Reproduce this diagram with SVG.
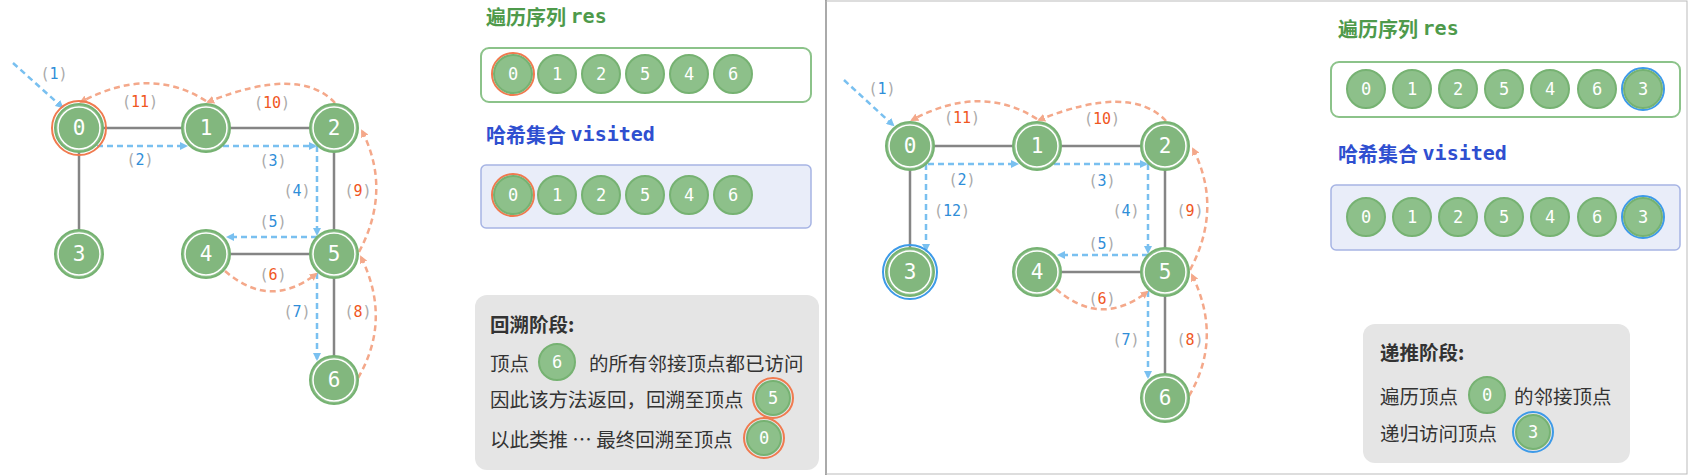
<svg xmlns="http://www.w3.org/2000/svg" width="1688" height="475" viewBox="0 0 1688 475">
<style>
.n circle.o{fill:#8dc08a;stroke:#76b272;stroke-width:2}
.n circle.i{fill:#82b77e;stroke:#fff;stroke-width:1.5}
.n text{font-family:"DejaVu Sans Mono",monospace;fill:#fff;font-size:21px;text-anchor:middle;dominant-baseline:central}
.s text{font-size:17px}
.e{stroke:#858585;stroke-width:2.5;fill:none}
.b{stroke:#79c0f0;stroke-width:2.5;stroke-dasharray:6 4;fill:none;marker-end:url(#ab)}
.r{stroke:#f4a88a;stroke-width:2.5;stroke-dasharray:6 4;fill:none;marker-end:url(#ar)}
.lb{font-family:"DejaVu Sans Mono",monospace;font-size:15px;text-anchor:middle;dominant-baseline:central;fill:#aaa}
.lb .c1{fill:#2f8ed8}.lb .c2{fill:#f0571f}
.t{font-family:"Noto Sans CJK SC",sans-serif;font-weight:bold;font-size:20px;dominant-baseline:central}
.tm{font-family:"DejaVu Sans Mono",monospace;font-weight:bold}
.p{font-family:"Noto Sans CJK SC",sans-serif;font-size:19.5px;fill:#333;dominant-baseline:central}
.org{fill:none;stroke:#f07a4f;stroke-width:2}
.blr{fill:none;stroke:#3d9ae8;stroke-width:2}
</style>
<defs>
<marker id="ab" markerWidth="8" markerHeight="8" refX="6" refY="4" orient="auto" markerUnits="userSpaceOnUse"><path d="M0,0 L8,4 L0,8 z" fill="#79c0f0"/></marker>
<marker id="ar" markerWidth="8" markerHeight="8" refX="6" refY="4" orient="auto" markerUnits="userSpaceOnUse"><path d="M0,0 L8,4 L0,8 z" fill="#f4a88a"/></marker>
<g id="gr">
<g class="conn">
<line class="e" x1="79" y1="128" x2="206" y2="128"/><line class="e" x1="206" y1="128" x2="334" y2="128"/>
<line class="e" x1="79" y1="128" x2="79" y2="254"/><line class="e" x1="334" y1="128" x2="334" y2="254"/>
<line class="e" x1="206" y1="254" x2="334" y2="254"/><line class="e" x1="334" y1="254" x2="334" y2="380"/>
</g>
</g>
</defs>
<rect width="1688" height="475" fill="#fff"/>
<line x1="826" y1="0" x2="826" y2="475" stroke="#999" stroke-width="2"/>
<rect x="826" y="1" width="861" height="473" fill="none" stroke="#bbb" stroke-width="1"/>

<g id="left">
<g id="edges-left">
<use href="#gr"/>
<path class="b" d="M13,63 L62,107"/>
<path class="b" d="M97,146 L186,146"/>
<path class="b" d="M223,146 L315,146"/>
<path class="b" d="M317,146 L317,234"/>
<path class="b" d="M317,237 L228,237"/>
<path class="b" d="M317,273 L317,359"/>
<path class="r" d="M225,271 Q270,310 316,274"/>
<path class="r" d="M358,378 Q392,320 361,257"/>
<path class="r" d="M359,252 Q392,190 362,131"/>
<path class="r" d="M335,103 Q300,65 208,102"/>
<path class="r" d="M206,101 Q150,65 81,102"/>
<text class="lb" x="54" y="74">(<tspan class="c1">1</tspan>)</text>
<text class="lb" x="140" y="160">(<tspan class="c1">2</tspan>)</text>
<text class="lb" x="273" y="161">(<tspan class="c1">3</tspan>)</text>
<text class="lb" x="297" y="191">(<tspan class="c1">4</tspan>)</text>
<text class="lb" x="273" y="222">(<tspan class="c1">5</tspan>)</text>
<text class="lb" x="273" y="275">(<tspan class="c2">6</tspan>)</text>
<text class="lb" x="297" y="312">(<tspan class="c1">7</tspan>)</text>
<text class="lb" x="358" y="312">(<tspan class="c2">8</tspan>)</text>
<text class="lb" x="358" y="191">(<tspan class="c2">9</tspan>)</text>
<text class="lb" x="272" y="103">(<tspan class="c2">10</tspan>)</text>
<text class="lb" x="140" y="102">(<tspan class="c2">11</tspan>)</text>
</g>
<g id="L0" class="n"><circle class="org" cx="79" cy="128" r="27"/><circle class="o" cx="79" cy="128" r="24"/><circle class="i" cx="79" cy="128" r="21"/><text x="79" y="128">0</text></g>
<g id="L1" class="n"><circle class="o" cx="206" cy="128" r="24"/><circle class="i" cx="206" cy="128" r="21"/><text x="206" y="128">1</text></g>
<g id="L2" class="n"><circle class="o" cx="334" cy="128" r="24"/><circle class="i" cx="334" cy="128" r="21"/><text x="334" y="128">2</text></g>
<g id="L3" class="n"><circle class="o" cx="79" cy="254" r="24"/><circle class="i" cx="79" cy="254" r="21"/><text x="79" y="254">3</text></g>
<g id="L4" class="n"><circle class="o" cx="206" cy="254" r="24"/><circle class="i" cx="206" cy="254" r="21"/><text x="206" y="254">4</text></g>
<g id="L5" class="n"><circle class="o" cx="334" cy="254" r="24"/><circle class="i" cx="334" cy="254" r="21"/><text x="334" y="254">5</text></g>
<g id="L6" class="n"><circle class="o" cx="334" cy="380" r="24"/><circle class="i" cx="334" cy="380" r="21"/><text x="334" y="380">6</text></g>

<text class="t" x="486" y="16" fill="#4e9a4b">遍历序列 <tspan class="tm">res</tspan></text>
<rect x="481" y="48" width="330" height="54" rx="8" fill="#fff" stroke="#8cc38a" stroke-width="2"/>
<text class="t" x="486" y="134" fill="#2f4fd0">哈希集合 <tspan class="tm">visited</tspan></text>
<rect x="481" y="165" width="330" height="63" rx="5" fill="#e9edf9" stroke="#a6b4e4" stroke-width="1.5"/>
<g id="Lres" class="n s">
<circle class="org" cx="513" cy="74" r="21"/>
<circle class="o" cx="513" cy="74" r="19"/><text x="513" y="74">0</text>
<circle class="o" cx="557" cy="74" r="19"/><text x="557" y="74">1</text>
<circle class="o" cx="601" cy="74" r="19"/><text x="601" y="74">2</text>
<circle class="o" cx="645" cy="74" r="19"/><text x="645" y="74">5</text>
<circle class="o" cx="689" cy="74" r="19"/><text x="689" y="74">4</text>
<circle class="o" cx="733" cy="74" r="19"/><text x="733" y="74">6</text>
</g>
<g id="Lvis" class="n s">
<circle class="org" cx="513" cy="195" r="21"/>
<circle class="o" cx="513" cy="195" r="19"/><text x="513" y="195">0</text>
<circle class="o" cx="557" cy="195" r="19"/><text x="557" y="195">1</text>
<circle class="o" cx="601" cy="195" r="19"/><text x="601" y="195">2</text>
<circle class="o" cx="645" cy="195" r="19"/><text x="645" y="195">5</text>
<circle class="o" cx="689" cy="195" r="19"/><text x="689" y="195">4</text>
<circle class="o" cx="733" cy="195" r="19"/><text x="733" y="195">6</text>
</g>
<g id="Lnote">
<rect x="475" y="295" width="344" height="175" rx="12" fill="#e5e5e5"/>
<text class="p" x="490" y="323" font-weight="bold" fill="#222">回溯阶段:</text>
<text class="p" x="490" y="362">顶点</text>
<text class="p" x="589" y="362">的所有邻接顶点都已访问</text>
<text class="p" x="490" y="398">因此该方法返回，回溯至顶点</text>
<text class="p" x="490" y="438">以此类推 ⋯ 最终回溯至顶点</text>
<g class="n s">
<circle class="o" cx="557" cy="362" r="18"/><text x="557" y="362">6</text>
<circle class="org" cx="773" cy="398" r="20"/><circle class="o" cx="773" cy="398" r="17"/><text x="773" y="398">5</text>
<circle class="org" cx="764" cy="438" r="20"/><circle class="o" cx="764" cy="438" r="17"/><text x="764" y="438">0</text>
</g>
</g>
</g>

<g id="right">
<g id="edges-right" transform="translate(831,18)">
<use href="#gr"/>
<path class="b" d="M13,62 L62,107"/>
<path class="b" d="M97,146 L186,146"/>
<path class="b" d="M223,146 L315,146"/>
<path class="b" d="M317,146 L317,234"/>
<path class="b" d="M317,237 L228,237"/>
<path class="b" d="M317,273 L317,359"/>
<path class="b" d="M95,146 L95,232"/>
<path class="r" d="M225,271 Q270,310 316,274"/>
<path class="r" d="M358,378 Q392,320 361,257"/>
<path class="r" d="M359,252 Q392,190 362,131"/>
<path class="r" d="M335,103 Q300,65 208,102"/>
<path class="r" d="M206,101 Q150,65 81,102"/>
<text class="lb" x="51" y="71">(<tspan class="c1">1</tspan>)</text>
<text class="lb" x="131" y="162">(<tspan class="c1">2</tspan>)</text>
<text class="lb" x="271" y="163">(<tspan class="c1">3</tspan>)</text>
<text class="lb" x="295" y="193">(<tspan class="c1">4</tspan>)</text>
<text class="lb" x="271" y="226">(<tspan class="c1">5</tspan>)</text>
<text class="lb" x="271" y="281">(<tspan class="c2">6</tspan>)</text>
<text class="lb" x="295" y="322">(<tspan class="c1">7</tspan>)</text>
<text class="lb" x="359" y="322">(<tspan class="c2">8</tspan>)</text>
<text class="lb" x="359" y="193">(<tspan class="c2">9</tspan>)</text>
<text class="lb" x="271" y="101">(<tspan class="c2">10</tspan>)</text>
<text class="lb" x="131" y="100">(<tspan class="c2">11</tspan>)</text>
<text class="lb" x="121" y="193">(<tspan class="c1">12</tspan>)</text>
</g>
<g id="R0" class="n"><circle class="o" cx="910" cy="146" r="24"/><circle class="i" cx="910" cy="146" r="21"/><text x="910" y="146">0</text></g>
<g id="R1" class="n"><circle class="o" cx="1037" cy="146" r="24"/><circle class="i" cx="1037" cy="146" r="21"/><text x="1037" y="146">1</text></g>
<g id="R2" class="n"><circle class="o" cx="1165" cy="146" r="24"/><circle class="i" cx="1165" cy="146" r="21"/><text x="1165" y="146">2</text></g>
<g id="R3" class="n"><circle class="blr" cx="910" cy="272" r="27"/><circle class="o" cx="910" cy="272" r="24"/><circle class="i" cx="910" cy="272" r="21"/><text x="910" y="272">3</text></g>
<g id="R4" class="n"><circle class="o" cx="1037" cy="272" r="24"/><circle class="i" cx="1037" cy="272" r="21"/><text x="1037" y="272">4</text></g>
<g id="R5" class="n"><circle class="o" cx="1165" cy="272" r="24"/><circle class="i" cx="1165" cy="272" r="21"/><text x="1165" y="272">5</text></g>
<g id="R6" class="n"><circle class="o" cx="1165" cy="398" r="24"/><circle class="i" cx="1165" cy="398" r="21"/><text x="1165" y="398">6</text></g>

<text class="t" x="1338" y="28" fill="#4e9a4b">遍历序列 <tspan class="tm">res</tspan></text>
<rect x="1331" y="62" width="349" height="55" rx="8" fill="#fff" stroke="#8cc38a" stroke-width="2"/>
<text class="t" x="1338" y="153" fill="#2f4fd0">哈希集合 <tspan class="tm">visited</tspan></text>
<rect x="1331" y="185" width="349" height="65" rx="5" fill="#e9edf9" stroke="#a6b4e4" stroke-width="1.5"/>
<g id="Rres" class="n s">
<circle class="o" cx="1366" cy="89" r="19"/><text x="1366" y="89">0</text>
<circle class="o" cx="1412" cy="89" r="19"/><text x="1412" y="89">1</text>
<circle class="o" cx="1458" cy="89" r="19"/><text x="1458" y="89">2</text>
<circle class="o" cx="1504" cy="89" r="19"/><text x="1504" y="89">5</text>
<circle class="o" cx="1550" cy="89" r="19"/><text x="1550" y="89">4</text>
<circle class="o" cx="1597" cy="89" r="19"/><text x="1597" y="89">6</text>
<circle class="blr" cx="1643" cy="89" r="21"/><circle class="o" cx="1643" cy="89" r="19"/><text x="1643" y="89">3</text>
</g>
<g id="Rvis" class="n s">
<circle class="o" cx="1366" cy="217" r="19"/><text x="1366" y="217">0</text>
<circle class="o" cx="1412" cy="217" r="19"/><text x="1412" y="217">1</text>
<circle class="o" cx="1458" cy="217" r="19"/><text x="1458" y="217">2</text>
<circle class="o" cx="1504" cy="217" r="19"/><text x="1504" y="217">5</text>
<circle class="o" cx="1550" cy="217" r="19"/><text x="1550" y="217">4</text>
<circle class="o" cx="1597" cy="217" r="19"/><text x="1597" y="217">6</text>
<circle class="blr" cx="1643" cy="217" r="21"/><circle class="o" cx="1643" cy="217" r="19"/><text x="1643" y="217">3</text>
</g>
<g id="Rnote">
<rect x="1363" y="324" width="267" height="139" rx="12" fill="#e5e5e5"/>
<text class="p" x="1380" y="351" font-weight="bold" fill="#222">递推阶段:</text>
<text class="p" x="1380" y="395">遍历顶点</text>
<text class="p" x="1514" y="395">的邻接顶点</text>
<text class="p" x="1380" y="432">递归访问顶点</text>
<g class="n s">
<circle class="o" cx="1487" cy="395" r="18"/><text x="1487" y="395">0</text>
<circle class="blr" cx="1533" cy="432" r="20"/><circle class="o" cx="1533" cy="432" r="17"/><text x="1533" y="432">3</text>
</g>
</g>
</g>
</svg>
